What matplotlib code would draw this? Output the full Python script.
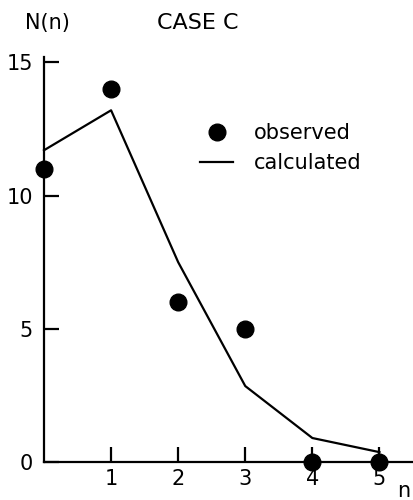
import numpy as np
import matplotlib.pyplot as plt

# values
n_values = [0, 1, 2, 3, 4, 5]
observed = [11, 14, 6, 5, 0, 0]
calculated = [11.7, 13.2, 7.5, 2.85, 0.9, 0.37]
y_ticks = [0, 5, 10, 15]
x_ticks = [1, 2, 3, 4, 5]

plt.rcParams["font.family"] = "DejaVu Sans"
plt.rcParams["font.size"] = 15

fig = plt.figure(figsize=(4.13, 5.0), dpi=100)
ax = fig.add_axes([0.1065, 0.076, 0.8935, 0.81])

ax.plot(n_values, calculated, color="black", linewidth=1.6,
        label="calculated", clip_on=False)
ax.plot(n_values, observed, "o", color="black", markersize=12,
        label="observed", clip_on=False, zorder=5)

ax.set_xlim(0, 5.5)
ax.set_ylim(0, 15.2)

for side in ["top", "right"]:
    ax.spines[side].set_visible(False)
for side in ["left", "bottom"]:
    ax.spines[side].set_linewidth(1.6)

ax.set_xticks(x_ticks)
ax.set_yticks(y_ticks)
ax.tick_params(axis="both", direction="in", length=11, width=1.6)
ax.tick_params(axis="x", pad=5)
ax.tick_params(axis="y", pad=8)

ax.text(5.36, -1.1, "n", ha="center", va="center", clip_on=False)
fig.text(25 / 413, 1 - 23 / 500, "N(n)", ha="left", va="center")
fig.text(157 / 413, 1 - 23 / 500, "CASE C", ha="left", va="center",
         fontsize=16)

handles, labels = ax.get_legend_handles_labels()
ax.legend(handles[::-1], labels[::-1], frameon=False,
          loc="upper left", bbox_to_anchor=(200 / 413, 1 - 123 / 500),
          bbox_transform=fig.transFigure, borderpad=0, borderaxespad=0,
          handlelength=1.6, handletextpad=1.0, labelspacing=0.5,
          numpoints=1)

fig.savefig("out.png", dpi=100)
